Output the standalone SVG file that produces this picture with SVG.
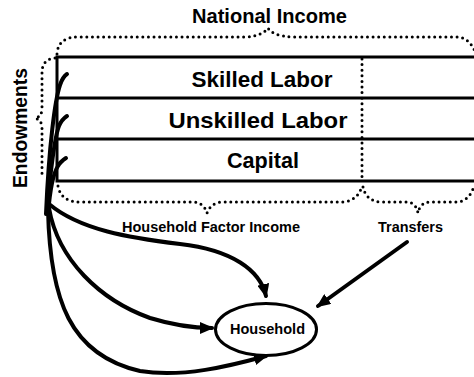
<svg xmlns="http://www.w3.org/2000/svg" width="474" height="377" viewBox="0 0 474 377">
  <defs>
    <style>
      .lbl { font-family: "Liberation Sans", Arial, sans-serif; font-weight: bold; fill: #000; text-anchor: middle; }
      .row { font-size: 22px; }
      .big { font-size: 20px; }
      .small { font-size: 15px; }
      .rule { stroke: #000; stroke-width: 3; fill: none; }
      .dots { stroke: #000; stroke-width: 3; fill: none; stroke-dasharray: 0 5.6; stroke-linecap: round; }
      .flow { stroke: #000; stroke-width: 4; fill: none; stroke-linecap: round; }
      .hook { stroke: #000; stroke-width: 4; fill: none; stroke-linecap: round; }
    </style>
    <marker id="head" viewBox="0 0 14 12" refX="12" refY="6" markerWidth="14" markerHeight="12" markerUnits="userSpaceOnUse" orient="auto">
      <path d="M0,0 L14,6 L0,12 z" fill="#000"/>
    </marker>
  </defs>

  <rect width="474" height="377" fill="#fff"/>

  <!-- factor table: three rows, open on the right -->
  <g id="factor-table">
    <path class="rule" d="M474,57 L57,57 L57,181 L474,181 M57,98 L474,98 M57,139 L474,139"/>
    <path class="dots" d="M362,59 L362,177"/>
    <text class="lbl row" x="262" y="87" textLength="141" lengthAdjust="spacingAndGlyphs">Skilled Labor</text>
    <text class="lbl row" x="258" y="128" textLength="179" lengthAdjust="spacingAndGlyphs">Unskilled Labor</text>
    <text class="lbl row" x="263" y="168" textLength="72" lengthAdjust="spacingAndGlyphs">Capital</text>
  </g>

  <!-- national income brace -->
  <g id="national-income">
    <path class="dots" d="M57,54 Q58,37 78,37 L246,37 Q262,36 268,28 Q273,36 292,37 L458,37 Q470,38 476,54"/>
    <text class="lbl big" x="269.5" y="23" textLength="155" lengthAdjust="spacingAndGlyphs">National Income</text>
  </g>

  <!-- endowments brace -->
  <g id="endowments">
    <path class="dots" d="M55,58 Q43,59 42,71 L42,108 Q42,117 35,118 Q42,120 42,128 L42,176"/>
    <text class="lbl big" transform="translate(27,128) rotate(-90)" textLength="120" lengthAdjust="spacingAndGlyphs">Endowments</text>
  </g>

  <!-- household factor income brace -->
  <g id="factor-income">
    <path class="dots" d="M58,186 Q61,202 80,202 L194,202 Q204,203 207,213 Q210,204 221,202 L344,202 Q358,200 362,186"/>
    <text class="lbl small" x="211" y="232" textLength="178" lengthAdjust="spacingAndGlyphs">Household Factor Income</text>
  </g>

  <!-- transfers brace -->
  <g id="transfers">
    <path class="dots" d="M363,187 Q366,201 381,202 L408,202 Q416,203 418,213 Q420,203 429,202 L458,202 Q470,200 474,186"/>
    <text class="lbl small" x="410.5" y="232" textLength="65" lengthAdjust="spacingAndGlyphs">Transfers</text>
  </g>

  <!-- household node -->
  <g id="household">
    <ellipse cx="266" cy="329.5" rx="50.5" ry="26" fill="#fff" stroke="#000" stroke-width="3"/>
    <text class="lbl small" x="267.5" y="334" textLength="75" lengthAdjust="spacingAndGlyphs">Household</text>
  </g>

  <!-- connectors -->
  <g id="connectors">
    <!-- endowment hooks into each factor row -->
    <path class="hook" d="M46,214 C49,145 55,100 60,85 C62,79 64,76 67,74"/>
    <path class="hook" d="M47,214 C50,172 55,136 59,126 C61,121 64,118 67,116"/>
    <path class="hook" d="M48,214 C50,190 54,172 58,166 C60,162 63,160 66,158"/>
    <!-- factor income flows to the household -->
    <path class="flow" d="M49,204 C80,230 130,238 180,244 C232,250 260,270 266,296" marker-end="url(#head)"/>
    <path class="flow" d="M49,208 C58,260 100,300 150,318 C176,326 196,328 212,328" marker-end="url(#head)"/>
    <path class="flow" d="M48,210 C50,300 70,355 140,371 C182,378 230,366 266,356" marker-end="url(#head)"/>
    <!-- transfers to the household -->
    <path class="flow" d="M407,242 L318,306" marker-end="url(#head)"/>
  </g>
</svg>
